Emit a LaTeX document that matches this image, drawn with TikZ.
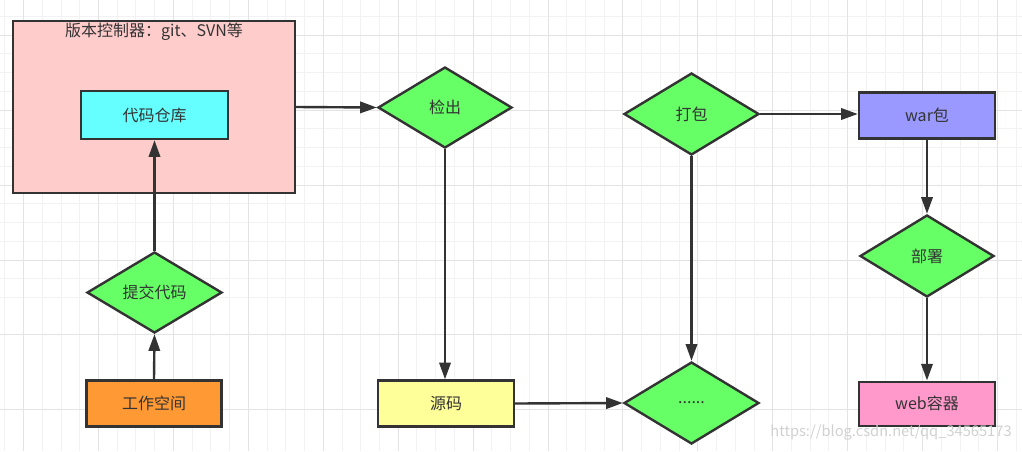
\documentclass[tikz,border=0pt]{standalone}
\usepackage{fontspec}
\newfontfamily\cjk{Noto Sans CJK SC}
\usetikzlibrary{shapes.geometric,arrows.meta}
\definecolor{linec}{HTML}{333333}
\definecolor{txt}{HTML}{333333}
\definecolor{gminor}{HTML}{F2F2F2}
\definecolor{gmajor}{HTML}{E3E3E3}
\definecolor{cpink}{HTML}{FFCCCC}
\definecolor{ccyan}{HTML}{66FFFF}
\definecolor{cgreen}{HTML}{66FF66}
\definecolor{corange}{HTML}{FF9933}
\definecolor{cyellow}{HTML}{FFFF99}
\definecolor{cpurple}{HTML}{9999FF}
\definecolor{cmagenta}{HTML}{FF99CC}
\tikzset{
  lbl/.style={font=\cjk\fontsize{12pt}{14pt}\selectfont, text=txt},
  box/.style={lbl, draw=linec, line width=1.8pt, inner sep=0pt, rectangle},
  dia/.style={lbl, draw=linec, line width=1.8pt, inner sep=0pt, diamond, fill=cgreen},
  arr/.style={draw=linec, line width=1.8pt, -{Triangle[length=12.5pt,width=8.5pt]}},
}
\begin{document}
\begin{tikzpicture}[x=0.75pt,y=-0.75pt]
\useasboundingbox (0,0) rectangle (1022,451);
\fill[white] (0,0) rectangle (1022,451);
% grid
\foreach \i in {-2,...,55}{
  \draw[gminor, line width=0.75pt] ({23.6+18.73*\i},0) -- ({23.6+18.73*\i},451);
}
\foreach \j in {-2,...,25}{
  \draw[gminor, line width=0.75pt] (0,{260-18.73*\j}) -- (1022,{260-18.73*\j});
}
\foreach \i in {0,...,13}{
  \draw[gmajor, line width=0.75pt] ({23.6+74.92*\i},0) -- ({23.6+74.92*\i},451);
}
\foreach \j in {-3,...,3}{
  \draw[gmajor, line width=0.75pt] (0,{260-74.92*\j}) -- (1022,{260-74.92*\j});
}
% nodes
\node[box, fill=cpink, minimum width=211.5pt, minimum height=129pt] (vcs) at (154,107) {};
\node[lbl] (vcstitle) at (154,32) {版本控制器：git、SVN等};
\node[box, fill=ccyan, minimum width=110.25pt, minimum height=36pt] (repo) at (154.5,115) {代码仓库};
\node[dia, minimum width=101.25pt, minimum height=60.75pt] (commit) at (154.5,292.5) {提交代码};
\node[box, fill=corange, minimum width=101.25pt, minimum height=34.5pt] (work) at (154,403.5) {工作空间};
\node[dia, minimum width=100.5pt, minimum height=60.75pt] (checkout) at (445,107.5) {检出};
\node[box, fill=cyellow, minimum width=102pt, minimum height=34.5pt] (src) at (446,403.5) {源码};
\node[dia, minimum width=101.25pt, minimum height=61.5pt] (dots) at (691.5,403) {......};
\node[dia, minimum width=101.25pt, minimum height=61.5pt] (pack) at (691.5,114) {打包};
\node[box, fill=cpurple, minimum width=102pt, minimum height=34.5pt] (war) at (927,115.3) {war包};
\node[dia, minimum width=100.5pt, minimum height=61.5pt] (deploy) at (927,256) {部署};
\node[box, fill=cmagenta, minimum width=102pt, minimum height=33pt] (web) at (927,403.7) {web容器};
% connectors
\draw[arr] (work.north) -- (commit.south);
\draw[arr] (commit.north) -- (repo.south);
\draw[arr] (vcs.east) -- (checkout.west);
\draw[arr] (checkout.south) -- (checkout.south |- src.north);
\draw[arr] (src.east) -- (dots.west);
\draw[arr] (pack.south) -- (dots.north);
\draw[arr] (pack.east) -- (pack.east -| war.west);
\draw[arr] (war.south) -- (deploy.north);
\draw[arr] (deploy.south) -- (web.north);
% watermark
\node[font=\cjk\fontsize{11pt}{13pt}\selectfont, text=black!18] (wm) at (891,432) {https://blog.csdn.net/qq\_34565173};
\end{tikzpicture}
\end{document}
